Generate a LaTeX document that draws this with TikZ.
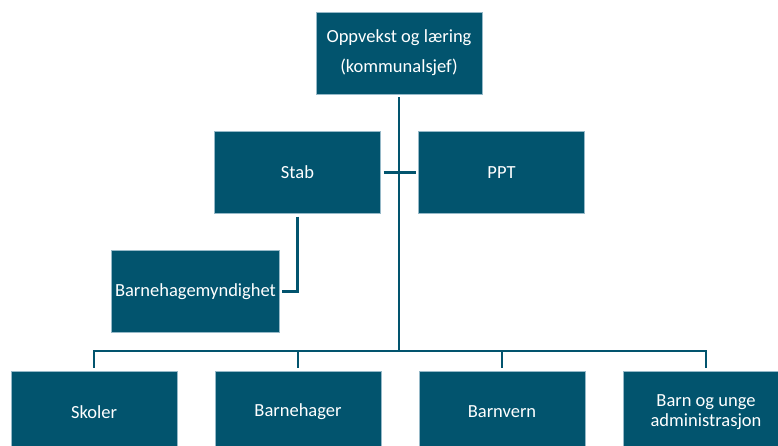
\documentclass[tikz,border=0pt]{standalone}
\usepackage{fontspec}
\setmainfont{Carlito}
\usetikzlibrary{positioning}
\definecolor{orgteal}{RGB}{2,84,110}
\definecolor{orgedge}{RGB}{150,185,200}

\begin{document}
\begin{tikzpicture}[
            x=1pt, y=-1pt,
            unit/.style={draw=orgedge, line width=0.6pt, fill=orgteal, text=white, minimum width=166pt, minimum height=82pt, align=center, outer sep=3pt, font=\fontsize{18.5}{20}\selectfont},
            link/.style={draw=orgteal, line width=2.6pt},
            node distance=32pt
        ]
        \useasboundingbox (0,0) rectangle (778,445);
        \clip (0,0) rectangle (778,445);

        % Leader and staff level
        \node[unit, font=\fontsize{18.5}{30}\selectfont] (leder) at (399,53) {Oppvekst og læring\\(kommunalsjef)};
        \node[unit] (stab) at (297.5,172.5) {Stab};
        \node[unit, right=of stab] (ppt) {PPT};
        \node[unit] (myndighet) at (195.5,291.5) {Barnehagemyndighet};

        % Service areas
        \node[unit] (skoler) at (94,412) {Skoler};
        \node[unit, right=of skoler] (barnehager) {Barnehager};
        \node[unit, right=of barnehager] (barnevern) {Barnvern};
        \node[unit, right=of barnevern] (bua) {Barn og unge\\administrasjon};

        \coordinate (buss) at (399,351);

        % Lines
        \draw[link] (leder.south) -- (buss);
        \draw[link] (stab.east) -- (ppt.west);
        \draw[link] (stab.south) |- (myndighet.east);
        \foreach \enhet in {skoler, barnehager, barnevern, bua}
            \draw[link] (buss) -| (\enhet.north);
    \end{tikzpicture}
\end{document}
